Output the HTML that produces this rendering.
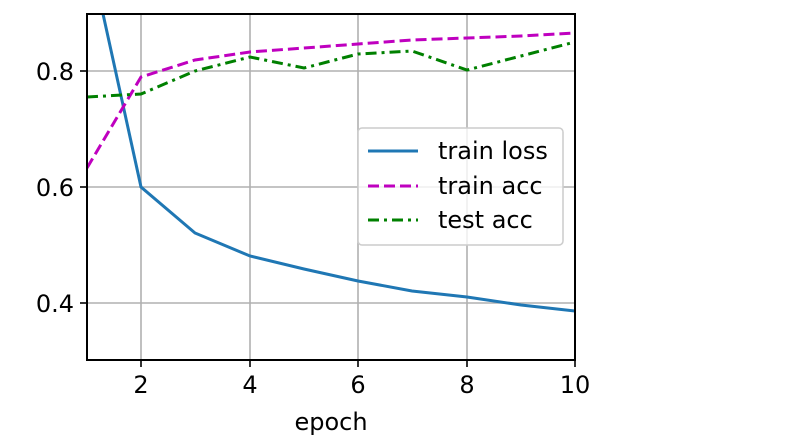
<!DOCTYPE html>
<html><head><style>body{margin:0;background:#fff}svg{display:block}text{font-family:"DejaVu Sans","Liberation Sans",sans-serif;fill:#000}</style></head><body>
<svg width="801" height="445" viewBox="0 0 801 445">
<defs><clipPath id="c"><rect x="87" y="14" width="488" height="346"/></clipPath></defs>
<g stroke="#b0b0b0" stroke-width="1.6">
<line x1="141" y1="14" x2="141" y2="360"/><line x1="250" y1="14" x2="250" y2="360"/><line x1="358" y1="14" x2="358" y2="360"/><line x1="467" y1="14" x2="467" y2="360"/>
<line x1="87" y1="71" x2="575" y2="71"/><line x1="87" y1="187" x2="575" y2="187"/><line x1="87" y1="303" x2="575" y2="303"/>
</g>
<g clip-path="url(#c)" fill="none" stroke-width="3">
<polyline stroke="#1f77b4" points="87,-59 141,187 195,233 250,256 304,269 358,281 412,291 467,297 521,305 575,311"/>
<polyline stroke="#bf00bf" stroke-dasharray="11,5" points="87,168 141,77 195,60 250,52 304,48 358,44 412,40 467,38 521,36 575,33"/>
<polyline stroke="#008000" stroke-dasharray="11,5,3,5" points="87,97 141,94 195,71 250,57 304,68 358,54 412,51 467,70 521,56 575,42"/>
</g>
<rect x="87" y="14" width="488" height="346" fill="none" stroke="#000" stroke-width="2"/>
<g stroke="#000" stroke-width="1.6">
<line x1="141" y1="360" x2="141" y2="367"/><line x1="250" y1="360" x2="250" y2="367"/><line x1="358" y1="360" x2="358" y2="367"/><line x1="467" y1="360" x2="467" y2="367"/><line x1="575" y1="360" x2="575" y2="367"/>
<line x1="80" y1="71" x2="87" y2="71"/><line x1="80" y1="187" x2="87" y2="187"/><line x1="80" y1="303" x2="87" y2="303"/>
</g>
<g font-size="24" text-anchor="middle">
<text x="141" y="393">2</text><text x="250" y="393">4</text><text x="358" y="393">6</text><text x="467" y="393">8</text><text x="575" y="393">10</text>
<text x="331" y="430">epoch</text>
</g>
<g font-size="24" text-anchor="end">
<text x="74" y="80">0.8</text><text x="74" y="196">0.6</text><text x="74" y="312">0.4</text>
</g>
<rect x="358" y="128" width="205" height="117" rx="4" fill="#fff" fill-opacity="0.8" stroke="#ccc" stroke-width="1.5"/>
<line x1="368" y1="151" x2="418" y2="151" stroke="#1f77b4" stroke-width="3"/>
<line x1="368" y1="186" x2="418" y2="186" stroke="#bf00bf" stroke-width="3" stroke-dasharray="11,5"/>
<line x1="368" y1="220" x2="418" y2="220" stroke="#008000" stroke-width="3" stroke-dasharray="11,5,3,5"/>
<g font-size="24"><text x="438" y="159">train loss</text><text x="438" y="194">train acc</text><text x="438" y="228">test acc</text></g>
</svg></body></html>
